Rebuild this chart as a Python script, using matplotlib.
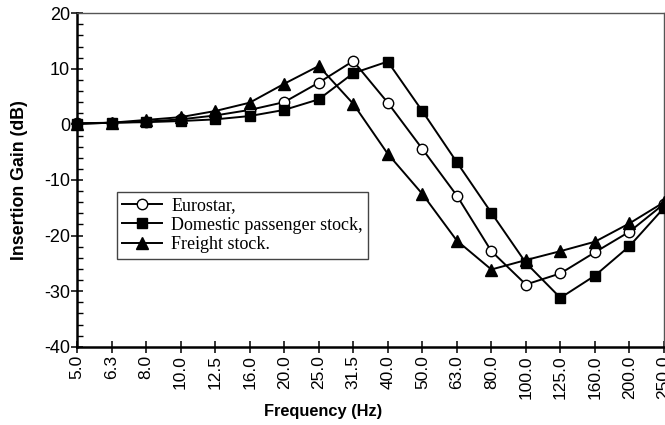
import matplotlib
matplotlib.use("Agg")
import matplotlib.pyplot as plt
from matplotlib.ticker import MultipleLocator

plt.rcParams["axes.unicode_minus"] = False

# third-octave band centre frequencies (Hz)
freqs = ["5.0", "6.3", "8.0", "10.0", "12.5", "16.0", "20.0", "25.0", "31.5",
         "40.0", "50.0", "63.0", "80.0", "100.0", "125.0", "160.0", "200.0", "250.0"]

# insertion gain (dB)
eurostar = [0.2, 0.3, 0.5, 0.9, 1.6, 2.6, 4.0, 7.5, 11.4,
            3.9, -4.4, -12.8, -22.8, -28.8, -26.8, -23.0, -19.3, -14.3]
domestic = [0.1, 0.3, 0.4, 0.6, 0.9, 1.5, 2.6, 4.5, 9.2,
            11.3, 2.4, -6.8, -15.9, -24.9, -31.2, -27.2, -21.9, -15.0]
freight = [0.1, 0.3, 0.8, 1.3, 2.4, 3.9, 7.3, 10.5, 3.7,
           -5.3, -12.5, -20.9, -26.1, -24.4, -22.8, -21.1, -17.8, -14.0]

fig = plt.figure(figsize=(6.65, 4.25), dpi=100)
ax = fig.add_axes([0.1158, 0.184, 0.8827, 0.785])

x = list(range(len(freqs)))
lw = 1.4
ax.plot(x, eurostar, color="black", lw=lw, marker="o", ms=7.5,
        mfc="white", mec="black", mew=1.0, label="Eurostar,", clip_on=False, zorder=3)
ax.plot(x, domestic, color="black", lw=lw, marker="s", ms=7.5,
        mfc="black", mec="black", label="Domestic passenger stock,", clip_on=False, zorder=3)
ax.plot(x, freight, color="black", lw=lw, marker="^", ms=8.5,
        mfc="black", mec="black", label="Freight stock.", clip_on=False, zorder=3)

ax.set_xlim(0, len(freqs) - 1)
ax.set_ylim(-40, 20)
ax.set_xticks(x)
ax.set_xticklabels(freqs, rotation=90, fontsize=12.5, family="Liberation Sans")
ax.yaxis.set_major_locator(MultipleLocator(10))
ax.yaxis.set_minor_locator(MultipleLocator(2))
for lab in ax.get_yticklabels():
    lab.set_family("Liberation Sans")
    lab.set_fontsize(13)

ax.tick_params(axis="both", which="major", direction="inout", length=8, width=1.1, color="black")
ax.tick_params(axis="y", which="minor", direction="in", length=4, width=1.0)
ax.tick_params(axis="x", pad=2)
ax.tick_params(axis="y", pad=1)

for side in ("left", "bottom"):
    ax.spines[side].set_linewidth(1.8)
for side in ("top", "right"):
    ax.spines[side].set_linewidth(1.0)
    ax.spines[side].set_color("#555555")

ax.set_xlabel("Frequency (Hz)", fontsize=11.8, fontweight="bold", family="Liberation Sans")
ax.xaxis.set_label_coords(0.419, -0.172)
ax.set_ylabel("Insertion Gain (dB)", fontsize=12.8, fontweight="bold", family="Liberation Sans")
ax.yaxis.set_label_coords(-0.083, 0.5)

leg = ax.legend(loc="upper left", bbox_to_anchor=(0.068, 0.465), frameon=True, fancybox=False,
                edgecolor="#444444", framealpha=1, borderpad=0.3, labelspacing=0.15,
                handlelength=2.2, handletextpad=0.5, borderaxespad=0,
                prop={"family": "Liberation Serif", "size": 13})
leg.get_frame().set_linewidth(1.0)

fig.savefig("out.png", dpi=100)
